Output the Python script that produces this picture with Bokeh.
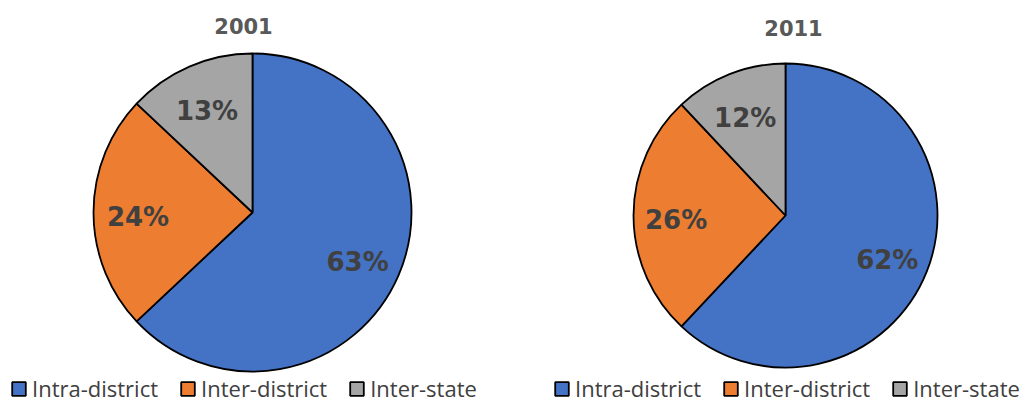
import numpy as np
from bokeh.plotting import figure
from bokeh.models import ColumnDataSource, Range1d, Legend, LegendItem
from bokeh.core.properties import value
from bokeh.embed import file_html
from bokeh.resources import INLINE

# ---- data ----
categories = ["Intra-district", "Inter-district", "Inter-state"]
years = ["2001", "2011"]
values_2001 = [63, 24, 13]
values_2011 = [62, 26, 12]
colors = ["#4472C4", "#ED7D31", "#A5A5A5"]

# ---- layout (page pixel coordinates; y measured from top of page) ----
W, H = 1029, 403


def py(y_page):
    return H - y_page


pies = [
    dict(vals=values_2001, cx=252, cy=212, r=159, title=years[0], tx=243, ty=25, lx=10),
    dict(vals=values_2011, cx=785, cy=215, r=152, title=years[1], tx=793, ty=27, lx=553),
]

p = figure(width=W, height=H, output_backend="svg", toolbar_location=None,
           x_range=Range1d(0, W), y_range=Range1d(0, H),
           x_axis_type=None, y_axis_type=None,
           min_border=0, min_border_left=0, min_border_right=0,
           min_border_top=0, min_border_bottom=0)
p.outline_line_color = None
p.background_fill_color = "white"

for pie in pies:
    vals = np.array(pie["vals"], dtype=float)
    frac = vals / vals.sum()
    cum_end = np.cumsum(frac)
    cum_start = cum_end - frac
    # clockwise from 12 o'clock
    start = np.pi / 2 - cum_end * 2 * np.pi
    end = np.pi / 2 - cum_start * 2 * np.pi
    mid = (start + end) / 2
    cx, cy, r = pie["cx"], py(pie["cy"]), pie["r"]
    src = ColumnDataSource(dict(
        start=start, end=end, color=colors, cat=categories,
        lx=cx + 0.72 * r * np.cos(mid), ly=cy + 0.72 * r * np.sin(mid),
        txt=[f"{int(v)}%" for v in vals],
    ))
    wr = p.wedge(x=cx, y=cy, radius=r, start_angle="start", end_angle="end",
                 fill_color="color", line_color="black", line_width=1.8, source=src)
    p.text(x="lx", y="ly", text="txt", source=src, text_align="center",
           text_baseline="middle", text_font=value("DejaVu Sans"),
           text_font_style="bold", text_font_size="26px", text_color="#404040",
           y_offset=4)
    p.text(x=[pie["tx"]], y=[py(pie["ty"])], text=[pie["title"]], text_align="center",
           text_baseline="middle", text_font=value("DejaVu Sans"),
           text_font_style="bold", text_font_size="21px", text_color="#595959")
    items = [LegendItem(label=c, renderers=[wr], index=i) for i, c in enumerate(categories)]
    leg = Legend(items=items, orientation="horizontal", location=(pie["lx"], 0),
                 glyph_width=17, glyph_height=17, label_standoff=5, spacing=21,
                 padding=0, margin=0, border_line_color=None, background_fill_alpha=0,
                 label_text_font="Open Sans", label_text_font_size="22px",
                 label_text_color="#404040", label_height=14)
    p.add_layout(leg, "center")

open("out.html", "w").write(file_html(p, INLINE))
